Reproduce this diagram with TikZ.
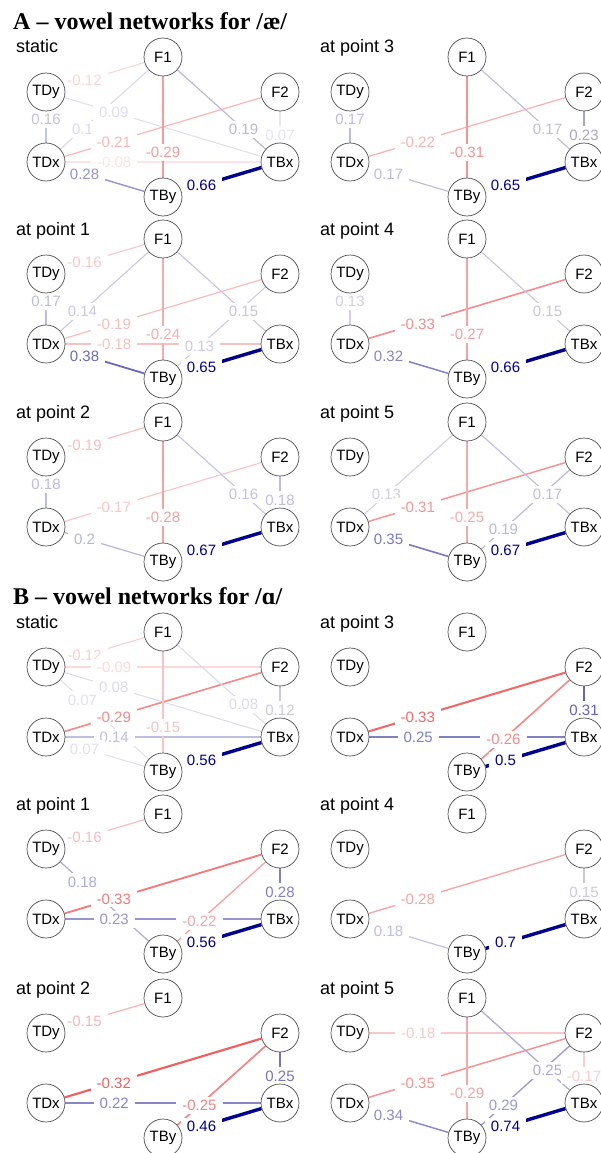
\documentclass[tikz,border=0pt]{standalone}
\usepackage{fontspec}
\setmainfont{Liberation Sans}
\newfontfamily\headfont{Liberation Serif}
\usetikzlibrary{positioning}
\definecolor{posc}{RGB}{0,0,139}
\definecolor{negc}{RGB}{235,25,25}
\pgfdeclarelayer{edges}
\pgfdeclarelayer{labels}
\pgfsetlayers{edges,labels,main}
\tikzset{
  nd/.style   ={circle,draw=black!70,line width=0.7pt,fill=white,minimum size=38pt,
                inner sep=0pt,font=\fontsize{15}{18}\selectfont},
  elab/.style ={fill=white,pos=0.25,inner xsep=6pt,inner ysep=3pt,text height=11pt,
                text depth=0pt,font=\fontsize{15}{18}\selectfont},
  subt/.style ={anchor=base west,inner sep=0pt,font=\fontsize{18}{21}\selectfont},
  head/.style ={anchor=base west,inner sep=0pt,
                font=\headfont\bfseries\fontsize{24}{28}\selectfont},
}
% six nodes of one network, #1 subtitle, #2 largest weight
\newcommand{\netnodes}[2]{%
  \def\wmax{#2}%
  \node[nd] (F1) at (0,0) {F1};
  \node[subt] (lbl) at (-147,4) {#1};
  \node[nd,below left=35pt and 117pt of F1] (TDy) {TDy};
  \node[nd,below right=35pt and 117pt of F1] (F2) {F2};
  \node[nd,below=70pt of TDy] (TDx) {TDx};
  \node[nd,below=70pt of F2] (TBx) {TBx};
  \node[nd,below=140pt of F1] (TBy) {TBy};
}
% weighted link: from, to, weight
\newcommand{\wlink}[3]{%
  \pgfmathsetmacro{\wf}{min(1,abs(#3)/\wmax)}%
  \pgfmathtruncatemacro{\wpc}{100*\wf}%
  \pgfmathsetmacro{\wlw}{1+2.4*\wf*\wf}%
  \ifdim #3pt<0pt \colorlet{wc}{negc!\wpc!white}\else\colorlet{wc}{posc!\wpc!white}\fi
  \begin{pgfonlayer}{edges}
    \draw[wc,line width=\wlw pt] (#1) -- (#2);
  \end{pgfonlayer}
  \begin{pgfonlayer}{labels}
    \path (#1) -- node[elab,text=wc] (#1-#2) {#3} (#2);
  \end{pgfonlayer}
}

\begin{document}
\begin{tikzpicture}[x=1pt,y=1pt,on grid]
\useasboundingbox (0,0) rectangle (601,-1153);
\node[head] (hA) at (13,-30) {A – vowel networks for /æ/};
\node[head] (hB) at (13,-604) {B – vowel networks for /ɑ/};

% A, left column
\begin{scope}[shift={(163,-57)},name prefix=as-]
\netnodes{static}{0.66}
\wlink{TDy}{TDx}{0.16}
\wlink{TDy}{F1}{-0.12}
\wlink{TDy}{TBx}{0.09}
\wlink{TDx}{F1}{0.1}
\wlink{TDx}{F2}{-0.21}
\wlink{TDx}{TBx}{-0.08}
\wlink{TDx}{TBy}{0.28}
\wlink{TBy}{F1}{-0.29}
\wlink{TBy}{TBx}{0.66}
\wlink{TBx}{F1}{0.19}
\wlink{TBx}{F2}{0.07}
\end{scope}
\begin{scope}[shift={(163,-239)},name prefix=a1-]
\netnodes{at point 1}{0.65}
\wlink{TDy}{TDx}{0.17}
\wlink{TDy}{F1}{-0.16}
\wlink{TDx}{F1}{0.14}
\wlink{TDx}{F2}{-0.19}
\wlink{TDx}{TBx}{-0.18}
\wlink{TDx}{TBy}{0.38}
\wlink{TBy}{F1}{-0.24}
\wlink{TBy}{F2}{0.13}
\wlink{TBy}{TBx}{0.65}
\wlink{TBx}{F1}{0.15}
\end{scope}
\begin{scope}[shift={(163,-422)},name prefix=a2-]
\netnodes{at point 2}{0.67}
\wlink{TDy}{TDx}{0.18}
\wlink{TDy}{F1}{-0.19}
\wlink{TDx}{F2}{-0.17}
\wlink{TDx}{TBy}{0.2}
\wlink{TBy}{F1}{-0.28}
\wlink{TBy}{TBx}{0.67}
\wlink{TBx}{F1}{0.16}
\wlink{TBx}{F2}{0.18}
\end{scope}

% A, right column
\begin{scope}[shift={(467,-57)},name prefix=a3-]
\netnodes{at point 3}{0.65}
\wlink{TDy}{TDx}{0.17}
\wlink{TDx}{F2}{-0.22}
\wlink{TDx}{TBy}{0.17}
\wlink{TBy}{F1}{-0.31}
\wlink{TBy}{TBx}{0.65}
\wlink{TBx}{F1}{0.17}
\wlink{TBx}{F2}{0.23}
\end{scope}
\begin{scope}[shift={(467,-239)},name prefix=a4-]
\netnodes{at point 4}{0.66}
\wlink{TDy}{TDx}{0.13}
\wlink{TDx}{F2}{-0.33}
\wlink{TDx}{TBy}{0.32}
\wlink{TBy}{F1}{-0.27}
\wlink{TBy}{TBx}{0.66}
\wlink{TBx}{F1}{0.15}
\end{scope}
\begin{scope}[shift={(467,-422)},name prefix=a5-]
\netnodes{at point 5}{0.67}
\wlink{TDx}{F1}{0.13}
\wlink{TDx}{F2}{-0.31}
\wlink{TDx}{TBy}{0.35}
\wlink{TBy}{F1}{-0.25}
\wlink{TBy}{F2}{0.19}
\wlink{TBy}{TBx}{0.67}
\wlink{TBx}{F1}{0.17}
\end{scope}

% B, left column
\begin{scope}[shift={(163,-632)},name prefix=bs-]
\netnodes{static}{0.56}
\wlink{TDy}{F1}{-0.12}
\wlink{TDy}{F2}{-0.09}
\wlink{TDy}{TBx}{0.08}
\wlink{TDy}{TBy}{0.07}
\wlink{TDx}{F2}{-0.29}
\wlink{TDx}{TBx}{0.14}
\wlink{TDx}{TBy}{0.07}
\wlink{TBy}{F1}{-0.15}
\wlink{TBy}{TBx}{0.56}
\wlink{TBx}{F1}{0.08}
\wlink{TBx}{F2}{0.12}
\end{scope}
\begin{scope}[shift={(163,-814)},name prefix=b1-]
\netnodes{at point 1}{0.56}
\wlink{TDy}{F1}{-0.16}
\wlink{TDy}{TBy}{0.18}
\wlink{TDx}{F2}{-0.33}
\wlink{TDx}{TBx}{0.23}
\wlink{TBy}{F2}{-0.22}
\wlink{TBy}{TBx}{0.56}
\wlink{TBx}{F2}{0.28}
\end{scope}
\begin{scope}[shift={(163,-998)},name prefix=b2-]
\netnodes{at point 2}{0.46}
\wlink{TDy}{F1}{-0.15}
\wlink{TDx}{F2}{-0.32}
\wlink{TDx}{TBx}{0.22}
\wlink{TBy}{F2}{-0.25}
\wlink{TBy}{TBx}{0.46}
\wlink{TBx}{F2}{0.25}
\end{scope}

% B, right column
\begin{scope}[shift={(467,-632)},name prefix=b3-]
\netnodes{at point 3}{0.5}
\wlink{TDx}{F2}{-0.33}
\wlink{TDx}{TBx}{0.25}
\wlink{TBy}{F2}{-0.26}
\wlink{TBy}{TBx}{0.5}
\wlink{TBx}{F2}{0.31}
\end{scope}
\begin{scope}[shift={(467,-814)},name prefix=b4-]
\netnodes{at point 4}{0.7}
\wlink{TDx}{F2}{-0.28}
\wlink{TDx}{TBy}{0.18}
\wlink{TBy}{TBx}{0.7}
\wlink{TBx}{F2}{0.15}
\end{scope}
\begin{scope}[shift={(467,-998)},name prefix=b5-]
\netnodes{at point 5}{0.74}
\wlink{TDy}{F2}{-0.18}
\wlink{TDx}{F2}{-0.35}
\wlink{TDx}{TBy}{0.34}
\wlink{TBy}{F1}{-0.29}
\wlink{TBy}{F2}{0.29}
\wlink{TBy}{TBx}{0.74}
\wlink{TBx}{F1}{0.25}
\wlink{TBx}{F2}{-0.17}
\end{scope}
\end{tikzpicture}
\end{document}
